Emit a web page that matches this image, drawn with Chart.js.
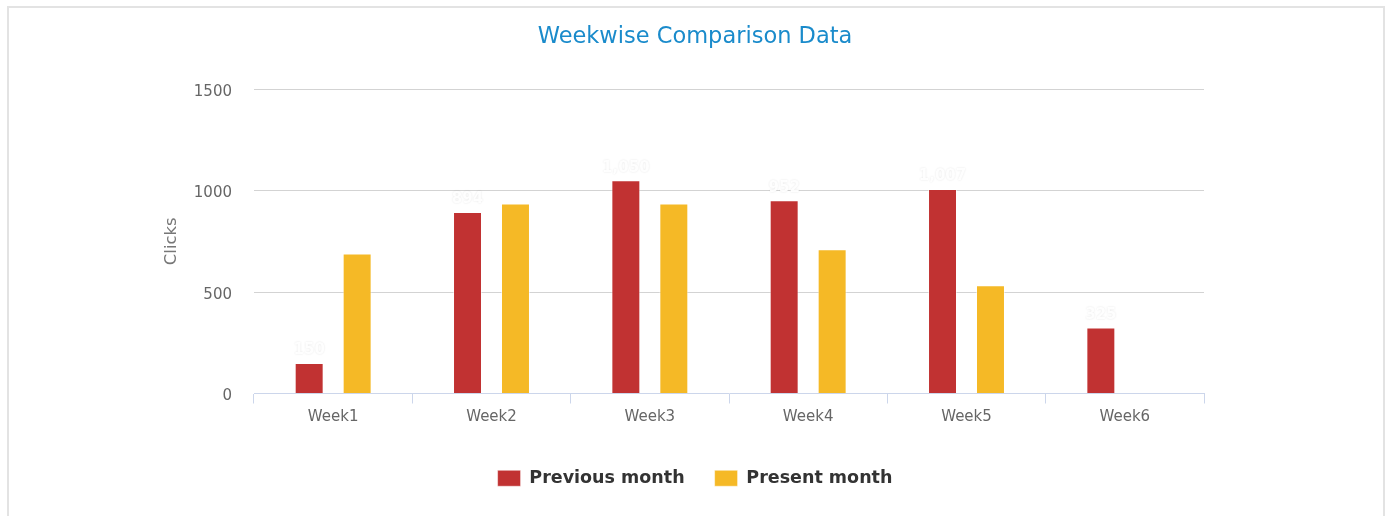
<!DOCTYPE html>
<html>
<head>
<meta charset="utf-8">
<script src="https://cdn.jsdelivr.net/npm/chart.js@4"></script>
<style>
  body { margin: 0; background: #fff; }
  #wrap { position: relative; width: 1389px; height: 516px; }
  #frame { position: absolute; left: 7px; top: 6px; width: 1374px; height: 520px;
           border: 2px solid #e3e3e3; pointer-events: none; }
</style>
</head>
<body>
<div id="wrap">
  <canvas id="myChart" width="1389" height="516"></canvas>
  <div id="frame"></div>
</div>
<script>
const weeks = ['Week1', 'Week2', 'Week3', 'Week4', 'Week5', 'Week6'];
const previousMonth = [150, 894, 1050, 952, 1007, 325];
const presentMonth = [690, 936, 936, 710, 533, 0];
const yTicks = [0, 500, 1000, 1500];

// faint white value labels over the red bars, like the original
const valueLabels = {
  id: 'valueLabels',
  afterDatasetsDraw(chart) {
    const ctx = chart.ctx;
    const meta = chart.getDatasetMeta(0);
    ctx.save();
    ctx.font = 'bold 15px "DejaVu Sans"';
    ctx.textAlign = 'center';
    ctx.textBaseline = 'bottom';
    ctx.fillStyle = 'rgba(255,255,255,0.95)';
    ctx.shadowColor = 'rgba(0,0,0,0.12)';
    ctx.shadowBlur = 2;
    meta.data.forEach((bar, i) => {
      ctx.fillText(previousMonth[i].toLocaleString('en-US'), bar.x, bar.y - 5);
    });
    ctx.restore();
  }
};

const data = {
  labels: weeks,
  datasets: [{
    label: 'Previous month',
    backgroundColor: '#c13232',
    borderColor: 'rgba(255,255,255,0.5)',
    borderWidth: 1,
    data: previousMonth
  },
  {
    label: 'Present month',
    backgroundColor: '#f5b926',
    borderColor: 'rgba(255,255,255,0.5)',
    borderWidth: 1,
    data: presentMonth
  }]
};

const config = {
  type: 'bar',
  data: data,
  plugins: [valueLabels],
  options: {
    responsive: false,
    animation: false,
    categoryPercentage: 0.606,
    barPercentage: 0.604,
    layout: { padding: { left: 186, right: 185, top: 0, bottom: 19 } },
    plugins: {
      tooltip: { enabled: false },
      title: {
        display: true,
        text: 'Weekwise Comparison Data',
        color: '#1a8bcb',
        font: { family: 'DejaVu Sans', size: 22.5, weight: 'normal' },
        padding: { top: 23.5, bottom: 38.5 }
      },
      legend: {
        position: 'bottom',
        labels: {
          boxWidth: 23,
          boxHeight: 16,
          padding: 30,
          color: '#333',
          font: { family: 'DejaVu Sans', size: 17.5, weight: 'bold' }
        }
      }
    },
    scales: {
      x: {
        offset: true,
        afterFit(scale) { scale.height = 46; },
        grid: { offset: true, drawOnChartArea: false, color: '#ccd6eb', tickLength: 10 },
        border: { color: '#ccd6eb' },
        ticks: { color: '#666', padding: 5, font: { family: 'DejaVu Sans', size: 15 } }
      },
      y: {
        min: 0,
        max: 1500,
        afterBuildTicks(scale) { scale.ticks = yTicks.map(v => ({ value: v })); },
        afterFit(scale) { scale.width = 68; },
        grid: { color: ctx => ctx.tick.value === 0 ? 'rgba(0,0,0,0)' : '#d3d3d3', drawTicks: false },
        border: { display: false },
        ticks: {
          color: '#666',
          padding: 22,
          labelOffset: 3,
          font: { family: 'DejaVu Sans', size: 15 },
          callback: v => String(v)
        },
        title: {
          display: true,
          text: 'Clicks',
          color: '#777',
          padding: { top: -24, bottom: 0 },
          font: { family: 'DejaVu Sans', size: 16.5 }
        }
      }
    }
  }
};

const myChart = new Chart(document.getElementById('myChart'), config);
</script>
</body>
</html>
